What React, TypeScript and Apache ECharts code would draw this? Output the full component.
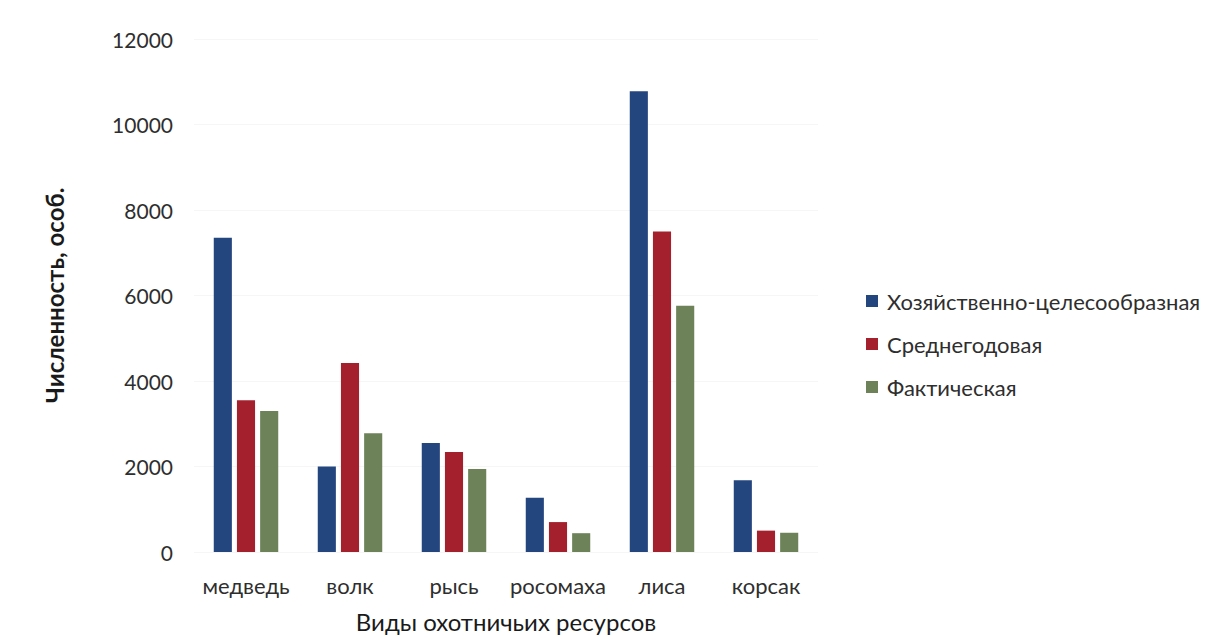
import React, { useEffect, useRef } from "react";
import * as echarts from "echarts";

// Виды охотничьих ресурсов
const categories = ["медведь", "волк", "рысь", "росомаха", "лиса", "корсак"];

// Численность, особей
const seriesNames = ["Хозяйственно-целесообразная", "Среднегодовая", "Фактическая"];
const economicValues = [7350, 2000, 2550, 1270, 10780, 1680];
const annualAverageValues = [3550, 4420, 2340, 700, 7500, 500];
const actualValues = [3300, 2780, 1940, 440, 5760, 450];

const yTicks = [0, 2000, 4000, 6000, 8000, 10000, 12000];

const colors = ["#23467f", "#a5202d", "#6e8259"];
const fontFamily = "Lato, 'Open Sans', sans-serif";

export default function App() {
  const ref = useRef<HTMLDivElement>(null);

  useEffect(() => {
    if (!ref.current) return;
    const chart = echarts.init(ref.current, undefined, { renderer: "svg" });
    const values = [economicValues, annualAverageValues, actualValues];

    chart.setOption({
      animation: false,
      backgroundColor: "#ffffff",
      textStyle: { fontFamily },
      grid: { left: 194, right: 410, top: 39, bottom: 92 },
      legend: {
        orient: "vertical",
        left: 861,
        top: 285,
        itemWidth: 12,
        itemHeight: 12,
        itemGap: 21,
        icon: "rect",
        textStyle: { fontSize: 22, color: "#2e2e2e", fontFamily, padding: [0, 0, 0, 4] },
        data: seriesNames,
      },
      xAxis: {
        type: "category",
        data: categories,
        name: "Виды охотничьих ресурсов",
        nameLocation: "middle",
        nameGap: 57,
        nameTextStyle: { fontSize: 24, color: "#1a1a1a", fontFamily },
        axisLine: { show: false },
        axisTick: { show: false },
        axisLabel: { interval: 0, fontSize: 22, color: "#2e2e2e", margin: 22, fontFamily },
      },
      yAxis: {
        type: "value",
        min: yTicks[0],
        max: yTicks[yTicks.length - 1],
        interval: 2000,
        name: "Численность, особ.",
        nameLocation: "middle",
        nameGap: 128,
        nameTextStyle: { fontSize: 24, fontWeight: 700, color: "#1a1a1a", fontFamily },
        axisLine: { show: false },
        axisTick: { show: false },
        axisLabel: {
          fontSize: 21,
          color: "#2e2e2e",
          margin: 21,
          fontFamily,
          formatter: (v: number) => String(v),
        },
        splitLine: { show: true, lineStyle: { color: "#f6f6f6", width: 1 } },
      },
      series: seriesNames.map((name, i) => ({
        name,
        type: "bar",
        data: values[i],
        barGap: "28%",
        barCategoryGap: "38%",
        itemStyle: { color: colors[i] },
      })),
    });

    return () => chart.dispose();
  }, []);

  return (
    <div
      ref={ref}
      style={{ position: "fixed", left: 0, top: 0, width: 1228, height: 644 }}
    />
  );
}
